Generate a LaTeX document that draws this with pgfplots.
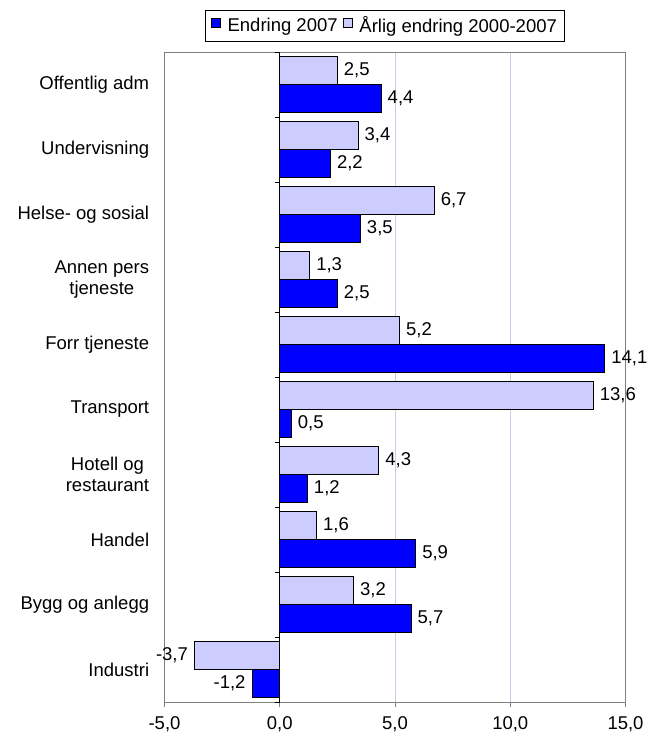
\documentclass[border=0pt]{standalone}
\usepackage{pgfplots}
\pgfplotsset{compat=1.18}
\usepackage{fontspec}
\setmainfont{Liberation Sans}
\definecolor{darkb}{RGB}{0,0,255}
\definecolor{lightb}{RGB}{204,204,255}
\definecolor{gridc}{RGB}{204,204,230}
\definecolor{borderc}{RGB}{128,128,128}
\pgfplotstableread{
y endring aarlig
0 -1.2 -3.7
1 5.7 3.2
2 5.9 1.6
3 1.2 4.3
4 0.5 13.6
5 14.1 5.2
6 2.5 1.3
7 3.5 6.7
8 2.2 3.4
9 4.4 2.5
}\datatab
\begin{document}
\fontsize{18.5}{21.5}\selectfont
\begin{tikzpicture}[font=\fontsize{18.5}{21.5}\selectfont]
\useasboundingbox (0,0) rectangle (657pt,733pt);
\begin{axis}[
  at={(164.5pt,31pt)}, anchor=south west,
  scale only axis, width=461pt, height=650pt,
  xmin=-5, xmax=15, ymin=-0.5, ymax=9.5,
  xbar, bar width=0.426,
  /pgf/number format/assume math mode=true,
  axis line style={borderc, line width=0.8pt},
  xtick={-5,0,5,10,15},
  xtick pos=bottom, xtick align=outside,
  x tick style={borderc, line width=0.8pt},
  major tick length=5pt,
  x tick label style={/pgf/number format/.cd, fixed, fixed zerofill, precision=1, use comma, assume math mode=true, /tikz/.cd, yshift=-3pt},
  xmajorgrids, grid style={gridc, line width=0.8pt},
  ytick={0,...,9},
  yticklabels={Industri, Bygg og anlegg, Handel, {Hotell og\\restaurant}, Transport, Forr tjeneste, {Annen pers\\tjeneste}, Helse- og sosial, Undervisning, Offentlig adm},
  y tick style={draw=none},
  y tick label style={align=center, xshift=-4pt},
  point meta=x,
  nodes near coords,
  nodes near coords align=horizontal,
  nodes near coords style={/pgf/number format/.cd, fixed, fixed zerofill, precision=1, use comma, assume math mode=true, /tikz/.cd, black},
  legend style={at={(0.478,1.0154)}, anchor=south, legend columns=-1, draw=black, line width=0.8pt,
     inner xsep=5pt, inner ysep=4pt,
     /tikz/every odd column/.append style={column sep=5pt},
     /tikz/every even column/.append style={column sep=3pt}},
  every axis plot post/.append style={legend image code/.code={\draw[#1, draw=black, line width=0.8pt] (0pt,-1pt) rectangle (9pt,8pt);}},
]
\addplot[bar shift=-0.213, fill=darkb, draw=black, line width=0.8pt] table[x=endring, y=y] {\datatab};
\addlegendentry{Endring 2007}
\addplot[bar shift=0.213, fill=lightb, draw=black, line width=0.8pt] table[x=aarlig, y=y] {\datatab};
\addlegendentry{Årlig endring 2000-2007}
\end{axis}
\begin{axis}[
  at={(279.75pt,31pt)}, anchor=south west,
  scale only axis, width=345.75pt, height=650pt,
  xmin=0, xmax=15, ymin=-0.5, ymax=9.5,
  axis x line=none, axis y line=left,
  axis line style={-, black, line width=0.8pt},
  ytick={-0.5,0.5,...,9.5}, yticklabels={},
  tick align=outside, major tick length=5pt,
  y tick style={black, line width=0.8pt},
]
\end{axis}
\end{tikzpicture}
\end{document}
